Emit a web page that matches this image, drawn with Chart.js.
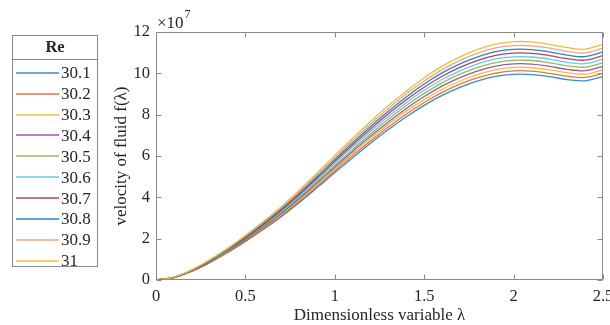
<!DOCTYPE html>
<html>
<head>
<meta charset="utf-8">
<script src="https://cdn.jsdelivr.net/npm/chart.js@4.4.0/dist/chart.umd.min.js"></script>
<style>
  html, body { margin: 0; padding: 0; background: #fff; }
  #wrap { width: 610px; height: 325px; position: relative; }
</style>
</head>
<body>
<div id="wrap"><canvas id="c"></canvas></div>
<script>
// dimensionless variable (x) and f(lambda) in units of 1e7, one array per Re
const lambda = [0, 0.1, 0.2, 0.3, 0.4, 0.5, 0.6, 0.7, 0.8, 0.9, 1.0, 1.1, 1.2,
  1.3, 1.4, 1.5, 1.6, 1.7, 1.8, 1.9, 2.0, 2.1, 2.2, 2.3, 2.4, 2.5];

const reLabels = ["30.1", "30.2", "30.3", "30.4", "30.5", "30.6", "30.7", "30.8", "30.9", "31"];

const re301 = [0, 0.12, 0.42, 0.84, 1.32, 1.86, 2.44, 3.06, 3.74, 4.46, 5.20, 5.92, 6.62,
  7.28, 7.90, 8.45, 8.93, 9.32, 9.63, 9.85, 9.95, 9.94, 9.84, 9.70, 9.64, 9.84];
const re302 = [0, 0.12, 0.43, 0.85, 1.34, 1.89, 2.48, 3.11, 3.80, 4.53, 5.29, 6.02, 6.73,
  7.40, 8.03, 8.59, 9.08, 9.48, 9.79, 10.01, 10.12, 10.11, 10.00, 9.86, 9.80, 10.00];
const re303 = [0, 0.12, 0.43, 0.87, 1.36, 1.92, 2.52, 3.16, 3.87, 4.61, 5.38, 6.12, 6.84,
  7.53, 8.17, 8.73, 9.23, 9.63, 9.95, 10.18, 10.29, 10.27, 10.17, 10.03, 9.96, 10.17];
const re304 = [0, 0.13, 0.44, 0.88, 1.39, 1.95, 2.56, 3.22, 3.93, 4.69, 5.46, 6.22, 6.96,
  7.65, 8.30, 8.88, 9.38, 9.79, 10.12, 10.35, 10.46, 10.45, 10.34, 10.19, 10.13, 10.34];
const re305 = [0, 0.13, 0.45, 0.90, 1.41, 1.99, 2.61, 3.27, 4.00, 4.76, 5.55, 6.32, 7.07,
  7.78, 8.44, 9.03, 9.54, 9.96, 10.29, 10.52, 10.63, 10.62, 10.51, 10.36, 10.30, 10.51];
const re306 = [0, 0.13, 0.46, 0.91, 1.43, 2.02, 2.65, 3.32, 4.06, 4.84, 5.65, 6.43, 7.19,
  7.91, 8.58, 9.18, 9.70, 10.12, 10.46, 10.70, 10.80, 10.79, 10.69, 10.53, 10.47, 10.69];
const re307 = [0, 0.13, 0.46, 0.93, 1.46, 2.05, 2.69, 3.38, 4.13, 4.92, 5.74, 6.53, 7.31,
  8.04, 8.72, 9.33, 9.86, 10.29, 10.63, 10.87, 10.98, 10.97, 10.86, 10.71, 10.64, 10.86];
const re308 = [0, 0.13, 0.47, 0.94, 1.48, 2.09, 2.74, 3.43, 4.20, 5.00, 5.83, 6.64, 7.43,
  8.17, 8.86, 9.48, 10.02, 10.46, 10.80, 11.05, 11.16, 11.15, 11.04, 10.88, 10.81, 11.04];
const re309 = [0, 0.14, 0.48, 0.96, 1.50, 2.12, 2.78, 3.49, 4.26, 5.09, 5.93, 6.75, 7.55,
  8.30, 9.01, 9.63, 10.18, 10.63, 10.98, 11.23, 11.34, 11.33, 11.22, 11.06, 10.99, 11.22];
const re310 = [0, 0.14, 0.49, 0.97, 1.53, 2.16, 2.83, 3.55, 4.33, 5.17, 6.03, 6.86, 7.67,
  8.44, 9.15, 9.79, 10.35, 10.80, 11.16, 11.41, 11.53, 11.52, 11.40, 11.24, 11.17, 11.40];

const yTicks = [0, 2, 4, 6, 8, 10, 12];
const xTicks = [0, 0.5, 1, 1.5, 2, 2.5];

const series = [re301, re302, re303, re304, re305, re306, re307, re308, re309, re310];
const colors = ["rgba(0,114,189,0.8)", "rgba(217,83,25,0.8)", "rgba(237,177,32,0.85)",
  "rgba(126,47,142,0.8)", "rgba(119,172,48,0.8)", "rgba(77,190,238,0.85)",
  "rgba(162,20,47,0.8)", "rgba(0,114,189,0.85)", "rgba(232,150,120,0.85)",
  "rgba(240,180,40,0.9)"];

const SERIF = "'Liberation Serif', 'Times New Roman', serif";
const TXT = "#262626";

const frame = {
  id: "frame",
  afterDraw(chart) {
    const { ctx, chartArea: a, scales: { x, y } } = chart;
    const L = Math.round(a.left) + 0.5, R = Math.round(a.right) - 0.5;
    const T = Math.round(a.top) + 0.5, B = Math.round(a.bottom) - 0.5;
    ctx.save();
    ctx.strokeStyle = "#8a8a8a";
    ctx.lineWidth = 1;
    ctx.strokeRect(L, T, R - L, B - T);
    ctx.beginPath();
    x.ticks.forEach((t) => {
      const px = Math.round(x.getPixelForValue(t.value)) + 0.5;
      ctx.moveTo(px, B); ctx.lineTo(px, B - 5);
      ctx.moveTo(px, T); ctx.lineTo(px, T + 5);
    });
    y.ticks.forEach((t) => {
      const py = Math.round(y.getPixelForValue(t.value)) + 0.5;
      ctx.moveTo(L, py); ctx.lineTo(L + 5, py);
      ctx.moveTo(R, py); ctx.lineTo(R - 5, py);
    });
    ctx.stroke();

    // axis titles
    ctx.fillStyle = TXT;
    ctx.font = "17px " + SERIF;
    ctx.textAlign = "center";
    ctx.textBaseline = "middle";
    ctx.fillText("Dimensionless variable \u03bb", (a.left + a.right) / 2, 316);
    ctx.save();
    ctx.translate(122, (a.top + a.bottom) / 2);
    ctx.rotate(-Math.PI / 2);
    ctx.fillText("velocity of fluid f(\u03bb)", 0, 0);
    ctx.restore();

    // exponent
    ctx.textAlign = "left";
    ctx.textBaseline = "alphabetic";
    ctx.font = "17px " + SERIF;
    ctx.fillText("\u00d710", a.left + 1, 28);
    const w = ctx.measureText("\u00d710").width;
    ctx.font = "12px " + SERIF;
    ctx.fillText("7", a.left + 1 + w + 1, 18);

    // legend box
    const bx = 12.5, by = 35.5, bw = 85, bh = 231;
    ctx.fillStyle = "#fff";
    ctx.fillRect(bx, by, bw, bh);
    ctx.strokeStyle = "#8a8a8a";
    ctx.strokeRect(bx, by, bw, bh);
    ctx.beginPath();
    ctx.moveTo(bx, 59.5); ctx.lineTo(bx + bw, 59.5);
    ctx.stroke();
    ctx.fillStyle = TXT;
    ctx.font = "bold 16.5px " + SERIF;
    ctx.textAlign = "center";
    ctx.textBaseline = "middle";
    ctx.fillText("Re", bx + bw / 2, 48);
    ctx.font = "17px " + SERIF;
    ctx.textAlign = "left";
    chart.data.datasets.forEach((ds, i) => {
      const ly = 72.7 + i * 20.9;
      ctx.strokeStyle = ds.borderColor;
      ctx.lineWidth = 1.6;
      ctx.beginPath();
      ctx.moveTo(16, Math.round(ly));
      ctx.lineTo(59, Math.round(ly));
      ctx.stroke();
      ctx.fillStyle = TXT;
      ctx.fillText(ds.label, 61, ly + 1);
    });
    ctx.restore();
  },
};

new Chart(document.getElementById("c"), {
  type: "line",
  plugins: [frame],
  data: {
    datasets: series.map((vals, i) => ({
      label: reLabels[i],
      data: vals.map((v, j) => ({ x: lambda[j], y: v })),
      borderColor: colors[i],
      backgroundColor: colors[i],
      borderWidth: 1.3,
      pointRadius: 0,
      tension: 0.4,
      fill: false,
      order: series.length - i,
    })),
  },
  options: {
    animation: false,
    responsive: true,
    maintainAspectRatio: false,
    layout: { padding: { top: 32, right: 7, bottom: 0, left: 0 } },
    plugins: { legend: { display: false }, tooltip: { enabled: false } },
    scales: {
      x: {
        type: "linear",
        min: 0,
        max: 2.5,
        afterBuildTicks: (s) => { s.ticks = xTicks.map((v) => ({ value: v })); },
        afterFit: (s) => { s.height = 45; s.paddingLeft = 0; s.paddingRight = 0; },
        grid: { display: false, drawTicks: false },
        border: { display: false },
        ticks: {
          padding: 7,
          maxRotation: 0,
          autoSkip: false,
          color: TXT,
          font: { family: SERIF, size: 16.5 },
          callback: (v) => String(v),
        },
      },
      y: {
        min: 0,
        max: 12,
        afterBuildTicks: (s) => { s.ticks = yTicks.map((v) => ({ value: v })); },
        afterFit: (s) => { s.width = 156; s.paddingTop = 0; s.paddingBottom = 0; },
        grid: { display: false, drawTicks: false },
        border: { display: false },
        ticks: {
          padding: 6,
          color: TXT,
          font: { family: SERIF, size: 16.5 },
        },
      },
    },
  },
});
</script>
</body>
</html>
